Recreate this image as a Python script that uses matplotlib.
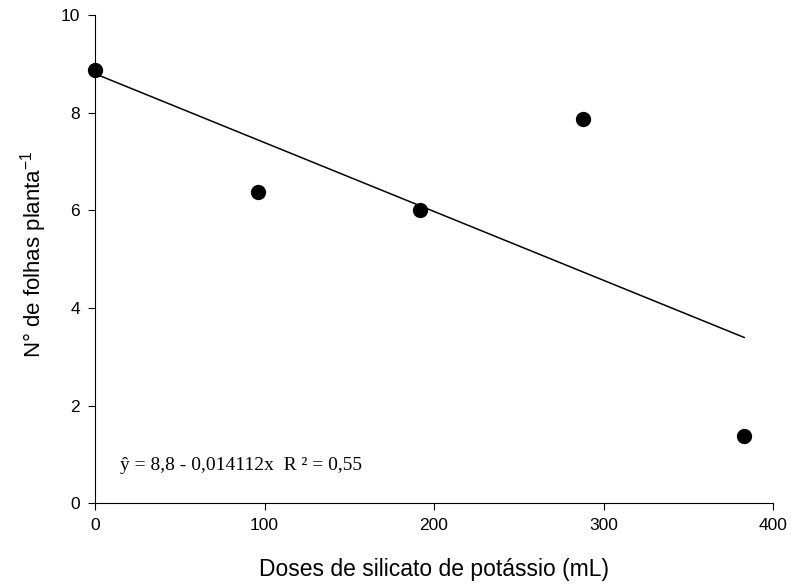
import numpy as np
import matplotlib
matplotlib.use("Agg")
import matplotlib.pyplot as plt

doses = [0, 96, 192, 288, 383]
folhas = [8.87, 6.37, 6.0, 7.88, 1.37]
b0, b1 = 8.8, -0.014112
xticks = [0, 100, 200, 300, 400]
yticks = [0, 2, 4, 6, 8, 10]

plt.rcParams["font.family"] = ["Liberation Sans", "DejaVu Sans"]
plt.rcParams["mathtext.fontset"] = "custom"
plt.rcParams["mathtext.rm"] = "Liberation Sans"

fig = plt.figure(figsize=(7.92, 5.85), dpi=100)
ax = fig.add_axes([0.12, 0.14, 0.856, 0.834])

xf = np.array([0, max(doses)])
ax.plot(xf, b0 + b1 * xf, color="black", lw=1.1)
ax.plot(doses, folhas, "o", color="black", ms=10, clip_on=False, zorder=3)

ax.set_xlim(0, 400)
ax.set_ylim(0, 10)
ax.set_xticks(xticks)
ax.set_yticks(yticks)
ax.spines["top"].set_visible(False)
ax.spines["right"].set_visible(False)
ax.tick_params(direction="out", length=5, labelsize=12.5, pad=6)
ax.set_xlabel("Doses de silicato de potássio (mL)", fontsize=16.5, labelpad=18)
ax.set_ylabel(r"N° de folhas planta$^{\mathrm{-1}}$", fontsize=16)
ax.yaxis.set_label_coords(-0.068, 0.51)

ax.text(15, 0.78, "ŷ = 8,8 - 0,014112x  R ² = 0,55",
        fontsize=14, family="Liberation Serif", va="center")

fig.savefig("out.png", dpi=100)
